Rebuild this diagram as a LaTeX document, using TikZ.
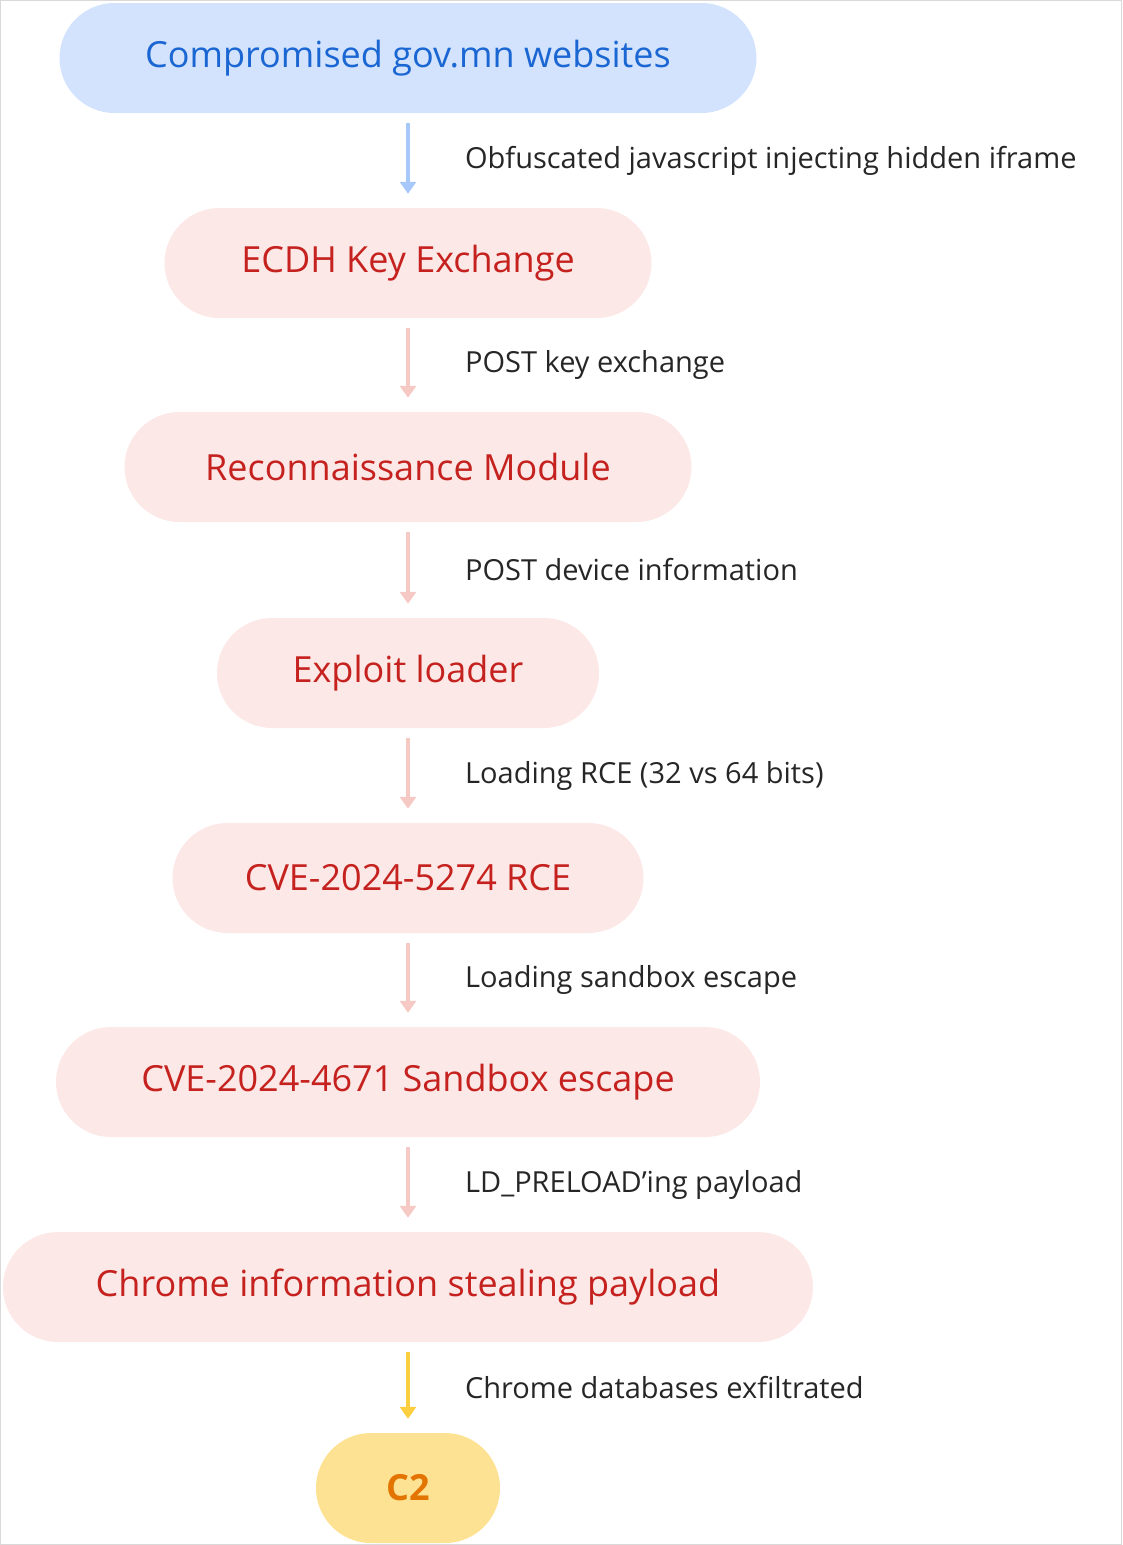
\documentclass[tikz,border=0pt]{standalone}
\usepackage{fontspec}
\setmainfont{Open Sans}
\usetikzlibrary{arrows.meta}
\definecolor{bfill}{HTML}{D3E3FD}\definecolor{btext}{HTML}{1A66D2}\definecolor{barrow}{HTML}{A8C7FA}
\definecolor{rfill}{HTML}{FCE8E6}\definecolor{rtext}{HTML}{C5221F}\definecolor{rarrow}{HTML}{F6C9C5}
\definecolor{yfill}{HTML}{FDE293}\definecolor{ytext}{HTML}{E37400}\definecolor{yarrow}{HTML}{FCCF3E}
\begin{document}
\begin{tikzpicture}[x=1pt,y=-1pt,
 stage/.style={rounded corners=55pt,minimum height=110pt,font=\fontsize{36}{40}\selectfont,inner sep=0pt},
 red/.style={stage,fill=rfill,text=rtext},
 flow/.style={line width=3.5pt,-{Triangle[length=12pt,width=16pt]},shorten <=10pt,shorten >=14pt},
 lab/.style={anchor=west,font=\fontsize{29}{34}\selectfont,text=black!85}]
\useasboundingbox (0,0) rectangle (1122,1545);
\clip (0,0) rectangle (1122,1545);
\draw[black!15,line width=1pt] (0.5,0.5) rectangle (1121.5,1544.5);
\node[stage,fill=bfill,text=btext,minimum width=697pt] (n1) at (408,58) {Compromised gov.mn websites};
\node[red,minimum width=487pt] (n2) at (408,263) {ECDH Key Exchange};
\node[red,minimum width=567pt] (n3) at (408,467) {Reconnaissance Module};
\node[red,minimum width=382pt] (n4) at (408,673) {Exploit loader};
\node[red,minimum width=471pt] (n5) at (408,878) {CVE-2024-5274 RCE};
\node[red,minimum width=704pt] (n6) at (408,1082) {CVE-2024-4671 Sandbox escape};
\node[red,minimum width=810pt] (n7) at (408,1287) {Chrome information stealing payload};
\node[stage,fill=yfill,text=ytext,minimum width=184pt,font=\fontsize{36}{40}\selectfont\bfseries] (n8) at (408,1488) {C2};
\draw[flow,barrow] (n1) -- (n2) node[midway,lab,xshift=52pt] {Obfuscated javascript injecting hidden iframe};
\draw[flow,rarrow] (n2) -- (n3) node[midway,lab,xshift=52pt] {POST key exchange};
\draw[flow,rarrow] (n3) -- (n4) node[midway,lab,xshift=52pt] {POST device information};
\draw[flow,rarrow] (n4) -- (n5) node[midway,lab,xshift=52pt] {Loading RCE (32 vs 64 bits)};
\draw[flow,rarrow] (n5) -- (n6) node[midway,lab,xshift=52pt] {Loading sandbox escape};
\draw[flow,rarrow] (n6) -- (n7) node[midway,lab,xshift=52pt] {LD\_PRELOAD’ing payload};
\draw[flow,yarrow] (n7) -- (n8) node[midway,lab,xshift=52pt] {Chrome databases exfiltrated};
\end{tikzpicture}
\end{document}
